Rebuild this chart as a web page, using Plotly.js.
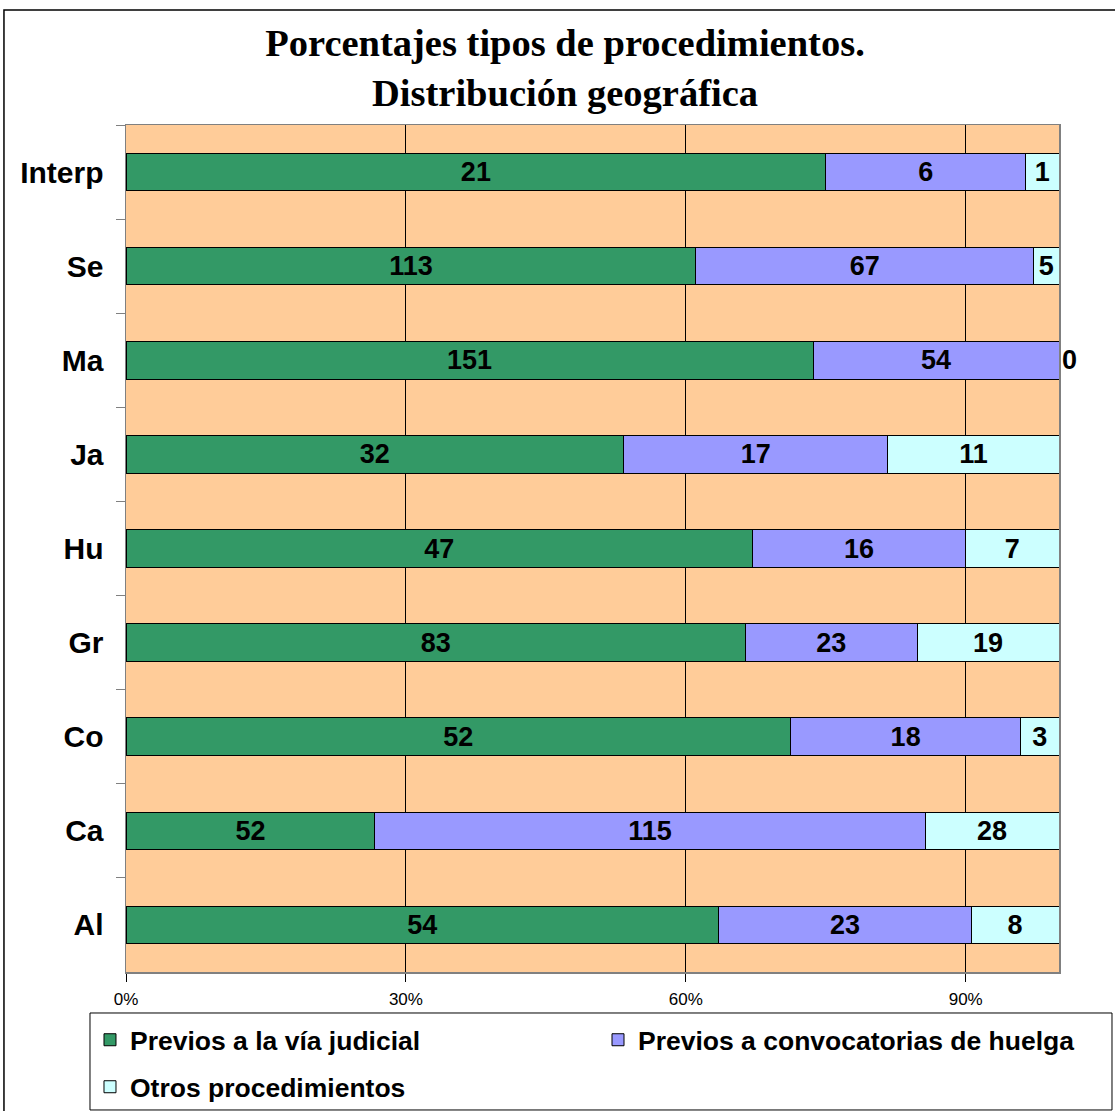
<!DOCTYPE html>
<html><head><meta charset="utf-8">
<script src="https://cdn.plot.ly/plotly-3.0.1.min.js"></script>
<style>body{margin:0;background:#fff}#c{width:1115px;height:1111px}</style>
</head><body><div id="c"></div>
<script>
const categories = ['Interp','Se','Ma','Ja','Hu','Gr','Co','Ca','Al'];
const judicial = [21,113,151,32,47,83,52,52,54];
const huelga = [6,67,54,17,16,23,18,115,23];
const otros = [1,5,0,11,7,19,3,28,8];
const seriesNames = ['Previos a la vía judicial','Previos a convocatorias de huelga','Otros procedimientos'];
const tickVals = [0,30,60,90];
const tickText = ['0%','30%','60%','90%'];

const colors = ['#339966','#9999FF','#CCFFFF'];
const legends = ['legend','legend2','legend3'];
function tf(){ return {family:'Arial, Liberation Sans', size:27, color:'#000', weight:'bold'}; }
function tr(vals, i){
  return {type:'bar', orientation:'h', y:categories, x:vals, name:seriesNames[i], legend:legends[i],
    text:vals.map(String), textposition:vals.map(v => v === 0 ? 'outside' : 'inside'), insidetextanchor:'middle',
    textangle:0, cliponaxis:false, constraintext:'none',
    textfont:tf(), insidetextfont:tf(), outsidetextfont:tf(),
    marker:{color:colors[i], line:{color:'#000', width:1}}, hoverinfo:'skip'};
}
const data = [tr(judicial,0), tr(huelga,1), tr(otros,2)];
function leg(x, y){
  return {orientation:'h', x:x, xanchor:'left', y:y, yanchor:'middle', bgcolor:'rgba(0,0,0,0)', borderwidth:0,
    font:{family:'Arial, Liberation Sans', size:26.5, color:'#000', weight:'bold'}, itemwidth:30};
}
const layout = {
  width:1115, height:1111,
  margin:{l:126, r:56, t:125, b:139, autoexpand:false},
  paper_bgcolor:'#fff', plot_bgcolor:'#FFCC99',
  barmode:'stack', barnorm:'percent', bargap:0.6,
  title:{text:'Porcentajes tipos de procedimientos.<br>Distribución geográfica',
    font:{family:'Liberation Serif, Times New Roman', size:38.5, color:'#000', weight:'bold'},
    x:565/1115, xanchor:'center', xref:'container', yref:'container', y:1-56/1111, yanchor:'middle'},
  xaxis:{range:[0,100.0005], tickvals:tickVals, ticktext:tickText, showgrid:true, gridcolor:'#000', gridwidth:1,
    zeroline:false, showline:true, linecolor:'#808080', linewidth:1.5, mirror:true,
    ticks:'outside', ticklen:8, tickcolor:'#000', ticklabelstandoff:3,
    tickfont:{family:'Arial, Liberation Sans', size:17, color:'#000'}, fixedrange:true},
  yaxis:{type:'category', autorange:'reversed', tickson:'boundaries', ticks:'outside', ticklen:9, tickcolor:'#808080',
    showline:true, linecolor:'#808080', linewidth:1.5, mirror:true, showgrid:false,
    tickfont:{family:'Arial, Liberation Sans', size:30, color:'#000', weight:'bold'}, ticklabelstandoff:15, fixedrange:true},
  showlegend:true,
  legend:leg(-0.0386, -0.0803),
  legend2:leg(0.5059, -0.0803),
  legend3:leg(-0.0386, -0.1358),
  shapes:[
    {type:'rect', xref:'paper', yref:'paper', x0:-0.1308, x1:1.2, y0:-0.3, y1:1.1358, line:{color:'#000', width:1.5}, fillcolor:'rgba(0,0,0,0)', layer:'below'},
    {type:'rect', xref:'paper', yref:'paper', x0:-0.0386, x1:1.0568, y0:-0.1629, y1:-0.0484, line:{color:'#000', width:1}, fillcolor:'rgba(0,0,0,0)'}
  ]
};
Plotly.newPlot('c', data, layout, {displayModeBar:false, staticPlot:true});
</script></body></html>
